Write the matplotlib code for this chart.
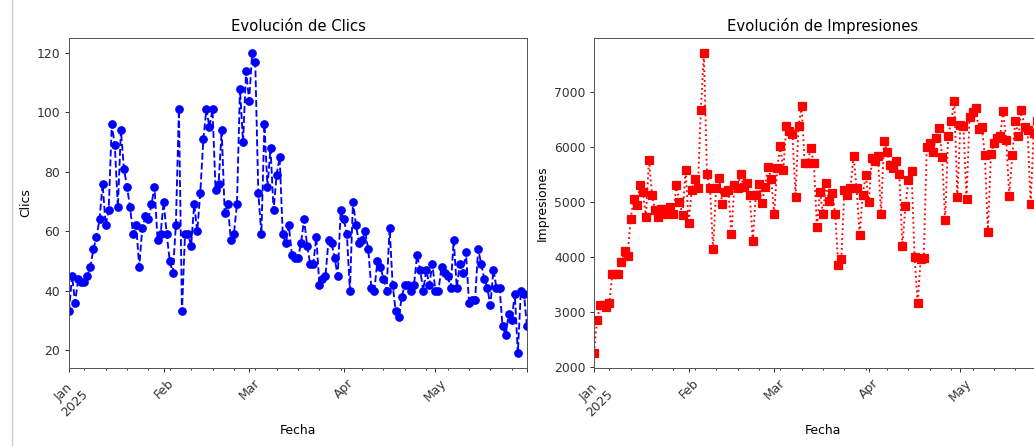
import matplotlib
matplotlib.use("Agg")
import matplotlib.pyplot as plt
from matplotlib.lines import Line2D
import pandas as pd

fechas = pd.date_range("2025-01-01", "2025-05-31", freq="D")

clics = [
    33, 45, 36, 44, 43, 43, 45, 48,
    54, 58, 64, 76, 62, 67, 96, 89,
    68, 94, 81, 75, 68, 59, 62, 48,
    61, 65, 64, 69, 75, 57, 59, 70,
    59, 50, 46, 62, 101, 33, 59, 59,
    55, 69, 60, 73, 91, 101, 95, 101,
    74, 76, 94, 66, 69, 57, 59, 69,
    108, 90, 114, 104, 120, 117, 73, 59,
    96, 75, 88, 67, 79, 85, 59, 56,
    62, 52, 51, 51, 56, 64, 55, 49,
    49, 58, 42, 44, 45, 57, 56, 51,
    45, 67, 64, 59, 40, 70, 62, 56,
    57, 60, 54, 41, 40, 50, 48, 44,
    40, 61, 42, 33, 31, 38, 42, 42,
    40, 42, 52, 47, 40, 47, 42, 49,
    40, 40, 48, 46, 45, 41, 57, 41,
    49, 46, 53, 36, 37, 37, 54, 49,
    44, 41, 35, 47, 41, 41, 28, 25,
    32, 30, 39, 19, 40, 39, 28,
]

impresiones = [
    2260, 2860, 3130, 3140, 3090, 3170, 3690, 3690,
    3690, 3910, 4120, 4030, 4700, 5060, 4950, 5310,
    5190, 4730, 5770, 5130, 4850, 4730, 4880, 4880,
    4790, 4910, 4790, 5310, 5000, 4760, 5590, 4620,
    5220, 5430, 5250, 6680, 7710, 5520, 5250, 4150,
    5250, 5445, 4960, 5190, 5220, 4430, 5310, 5250,
    5520, 5280, 5350, 5130, 4300, 5130, 5330, 4990,
    5280, 5630, 5430, 4790, 5620, 6020, 5590, 6390,
    6290, 6240, 5100, 6390, 6740, 5710, 5720, 5980,
    5710, 4540, 5190, 4790, 5340, 5020, 5160, 4790,
    3850, 3970, 5220, 5130, 5250, 5840, 5250, 4400,
    5130, 5490, 5000, 5800, 5750, 5830, 4790, 6120,
    5920, 5680, 5620, 5740, 5520, 4210, 4930, 5400,
    5560, 4000, 3160, 3970, 3990, 6010, 6070, 5920,
    6170, 6350, 5820, 4670, 6200, 6470, 6840, 5100,
    6410, 6380, 5050, 6550, 6630, 6710, 6330, 6370,
    5860, 4460, 5870, 6070, 6170, 6200, 6650, 6130,
    5110, 5860, 6470, 6200, 6680, 6370, 6320, 4960,
    6260, 6470, 6300, 6400, 6250, 6350, 6300,
]

s_clics = pd.Series(clics, index=fechas)
s_impr = pd.Series(impresiones, index=fechas)

W, H = 1034, 446
fig_w = 11.6
dpi = W / fig_w
fig = plt.figure(figsize=(fig_w, H / dpi), dpi=dpi, facecolor="white")

ax1 = fig.add_axes([69 / W, (H - 368) / H, 458 / W, 330 / H])
ax2 = fig.add_axes([594 / W, (H - 368) / H, 458 / W, 330 / H])

s_clics.plot(ax=ax1, marker="o", linestyle="--", color="blue", rot=45)
ax1.set_title("Evolución de Clics")
ax1.set_xlabel("Fecha")
ax1.set_ylabel("Clics")

s_impr.plot(ax=ax2, marker="s", linestyle=":", color="red", rot=45)
ax2.set_title("Evolución de Impresiones")
ax2.set_xlabel("Fecha")
ax2.set_ylabel("Impresiones")

for ax in (ax1, ax2):
    for sp in ax.spines.values():
        sp.set_color("#555555")
    ax.tick_params(colors="#333333")

fig.add_artist(Line2D([12 / W, 12 / W], [0, 1], color="#cfcfcf", lw=1.2,
                      transform=fig.transFigure))

fig.savefig("out.png", dpi=dpi, facecolor="white")
